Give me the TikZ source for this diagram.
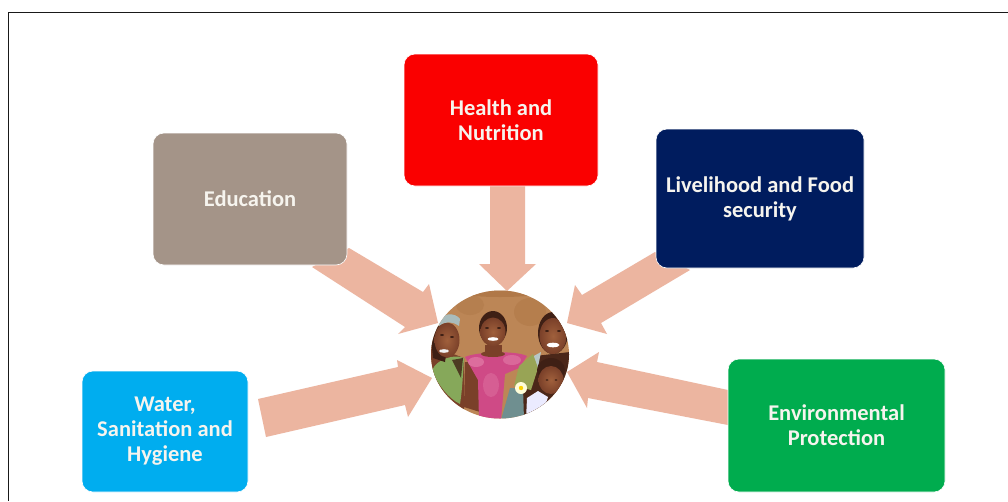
\documentclass[tikz,border=0pt]{standalone}
\usepackage{fontspec}
\setmainfont{Carlito}
\definecolor{arrowpink}{HTML}{ECB5A0}
\definecolor{edubox}{HTML}{A49488}
\definecolor{healthbox}{HTML}{FA0000}
\definecolor{livebox}{HTML}{001C5E}
\definecolor{waterbox}{HTML}{00ADEF}
\definecolor{envbox}{HTML}{00AC4E}
\definecolor{boxtext}{HTML}{F6F4EE}
\definecolor{wall}{HTML}{BC8656}
\definecolor{walldark}{HTML}{A8703F}
\definecolor{skin}{HTML}{7A4029}
\definecolor{skinlight}{HTML}{A0603C}
\definecolor{skindark}{HTML}{3F2015}
\definecolor{dress}{HTML}{CF4A86}
\definecolor{dresslight}{HTML}{E27DA8}
\definecolor{blouse}{HTML}{86A85A}
\definecolor{jacket}{HTML}{98A455}
\definecolor{jeans}{HTML}{6F8F90}
\tikzset{
  topic/.style={rounded corners=11pt,minimum width=#1,inner sep=0pt,align=center,
    font=\bfseries\fontsize{22.5}{25}\selectfont,text=boxtext,anchor=center},
  topicfill/.style={fill=#1,draw=white,line width=0.6pt},
  blockarrow/.style={fill=arrowpink,draw=none},
  face/.style={inner color=skinlight,outer color=skin},
}
\begin{document}
\begin{tikzpicture}[x=1pt,y=-1pt]
\useasboundingbox (0,0) rectangle (1008,501);
\fill[white] (0,0) rectangle (1008,501);
\draw[line width=1.3pt,black!90] (1008,12.5) -- (8.5,12.5) -- (8.5,501);
% block arrows
\fill[blockarrow] (490,184) -- (525,184) -- (525,264) -- (536,264) -- (507,291) -- (479,264) -- (490,264) -- cycle;
\fill[blockarrow] (349,248) -- (423,292) -- (429,284) -- (438,323) -- (398,334) -- (405,327) -- (312,267) -- cycle;
\fill[blockarrow] (655,252) -- (582,295) -- (575,285) -- (567,323) -- (607,334) -- (601,323) -- (690,270) -- cycle;
\fill[blockarrow] (258,399) -- (398,367) -- (397,360) -- (432,378) -- (408,417) -- (405,405) -- (266,437) -- cycle;
\fill[blockarrow] (728,390) -- (597,362) -- (599,352) -- (567,372) -- (587,408) -- (588,398) -- (728,425) -- cycle;
% boxes
\node[topic=194pt,topicfill=edubox,minimum height=132pt] (edu) at (250,199) {Education};
\node[topic=194pt,topicfill=healthbox,minimum height=132pt] (health) at (501,120) {Health and\\Nutrition};
\node[topic=208pt,topicfill=livebox,minimum height=139pt] (live) at (760,198.5) {Livelihood and Food\\security};
\node[topic=166pt,topicfill=waterbox,minimum height=121pt] (water) at (165,431.5) {Water,\\Sanitation and\\Hygiene};
\node[topic=217pt,topicfill=envbox,minimum height=133pt] (env) at (836.5,425.5) {Environmental\\Protection};
% photograph
\begin{scope}
\clip (500,354.5) ellipse [x radius=69, y radius=64];
\fill[wall] (430,290) rectangle (570,420);
\fill[walldark,opacity=.35] (530,312) ellipse [x radius=16, y radius=14];
\fill[walldark,opacity=.3] (470,305) ellipse [x radius=14, y radius=10];
\fill[walldark,opacity=.6] (500,293) ellipse [x radius=40, y radius=4];
% left woman
\fill[skin] (431,345) -- (448,352) -- (464,358) -- (464,420) -- (431,420) -- cycle;
\fill[blouse] (432,370) .. controls (438,358) and (455,354) .. (464,358) .. controls (463,375) and (462,392) .. (460,404) .. controls (448,398) and (438,385) .. (432,370) -- cycle;
\fill[skindark,opacity=.8] (452,360) -- (463,358) -- (461,378) -- cycle;
\fill[skindark] (431,338) .. controls (433,325) and (445,322) .. (450,325) -- (445,362) -- (433,358) -- cycle;
\shade[face] (447,340) ellipse [x radius=12.5, y radius=17.5];
\fill[white!90!gray] (444,351) ellipse [x radius=5, y radius=1.8];
\fill[skindark] (442,335) ellipse [x radius=2, y radius=.9];
\fill[skindark] (452,337) ellipse [x radius=2, y radius=.9];
\fill[jeans!60!white] (439,321) .. controls (442,313) and (455,312) .. (460,319) -- (459,326) .. controls (452,321) and (445,321) .. (439,326) -- cycle;
% girl arm + dress
\fill[skin] (465,362) -- (478,362) -- (480,412) -- (464,407) -- cycle;
\fill[dress] (465,357) .. controls (475,352) and (515,350) .. (527,356) -- (519,368) -- (505,374) -- (501,420) -- (479,420) -- (478,380) -- cycle;
\fill[dresslight,opacity=.7] (476,362) ellipse [x radius=8, y radius=5];
\fill[dresslight,opacity=.6] (512,360) ellipse [x radius=9, y radius=5];
\fill[dresslight,opacity=.4] (491,385) ellipse [x radius=8, y radius=12];
\fill[skin] (485,345) rectangle (502,354);
\fill[skin] (493,354) ellipse [x radius=12, y radius=3];
\fill[skindark] (493,328) ellipse [x radius=14, y radius=17];
\shade[face] (493,332) ellipse [x radius=12.5, y radius=14.5];
\fill[white] (493,339) ellipse [x radius=5.5, y radius=1.8];
\fill[skindark] (487,328) ellipse [x radius=2, y radius=.9];
\fill[skindark] (499,328) ellipse [x radius=2, y radius=.9];
% man
\fill[skindark!80!skin] (570,352) -- (535,356) -- (520,390) -- (522,420) -- (570,420) -- cycle;
\fill[jeans!50!white] (532,357) -- (541,352) -- (537,372) -- cycle;
\fill[jacket] (533,354) -- (519,366) -- (514,386) -- (531,390) -- (538,368) -- cycle;
\fill[jeans] (510,388) -- (523,388) -- (524,420) -- (501,420) -- cycle;
\fill[skindark] (553,333) ellipse [x radius=15, y radius=21];
\shade[face] (553,336) ellipse [x radius=13.5, y radius=18];
\fill[white] (553,345) ellipse [x radius=6.5, y radius=2.3];
\fill[skindark] (547,331) ellipse [x radius=2, y radius=.9];
\fill[skindark] (559,331) ellipse [x radius=2, y radius=.9];
% baby
\fill[skindark] (551,370) ellipse [x radius=14, y radius=12];
\shade[face] (551,380) ellipse [x radius=12.5, y radius=14];
\fill[skindark] (547,380) ellipse [x radius=1.5, y radius=.8];
\fill[skindark] (556,380) ellipse [x radius=1.5, y radius=.8];
% cloth, flower
\fill[white!92!blue] (527,398) -- (538,391) -- (548,397) -- (543,412) -- (526,420) -- cycle;
\fill[white!85!yellow] (521,388) circle [radius=6];
\fill[yellow!70!orange] (521,388) circle [radius=2.2];
\end{scope}
\end{tikzpicture}
\end{document}
